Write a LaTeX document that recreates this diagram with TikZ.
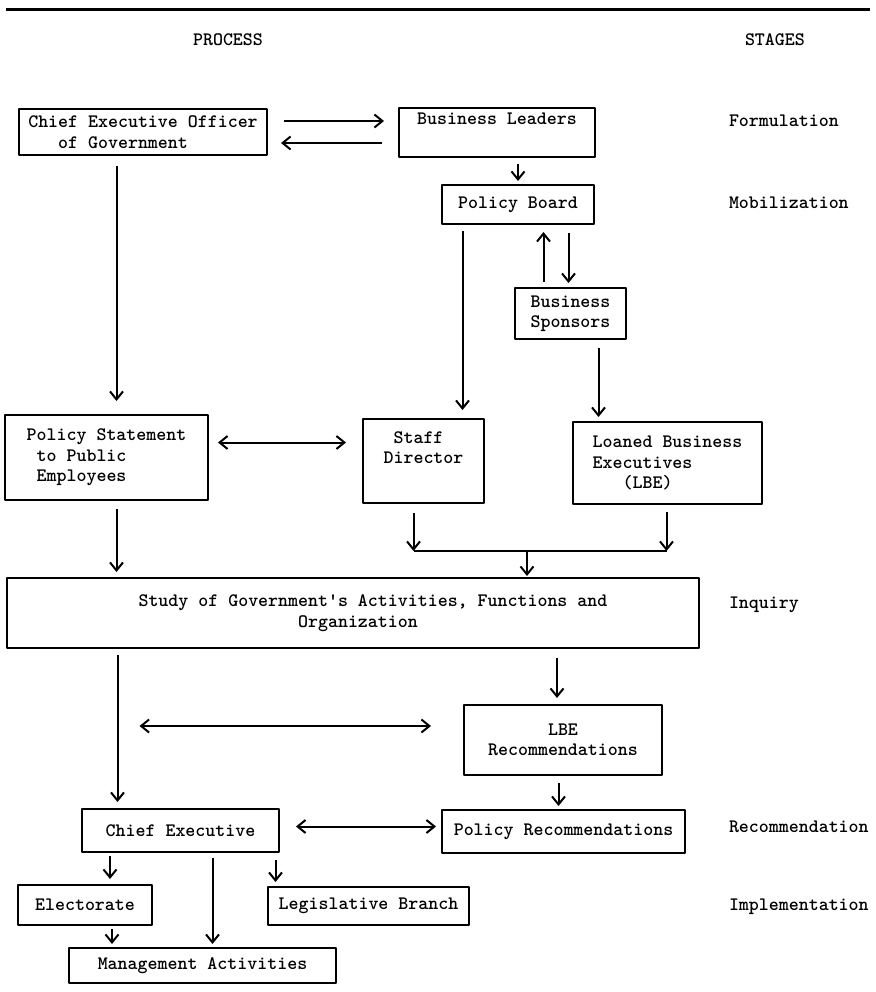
\documentclass[tikz,border=0pt]{standalone}
\usetikzlibrary{arrows.meta}
\begin{document}
\begin{tikzpicture}[x=1pt,y=-1pt,line width=2pt,line join=round,
  >={Straight Barb[length=8pt,width=13pt]},
  font=\fontsize{19}{20.5}\selectfont\ttfamily\bfseries,
  box/.style={draw,inner sep=0pt,align=center},
  stage/.style={anchor=west,inner sep=0pt}]
\useasboundingbox (0,0) rectangle (875,992);

%Kopf
\draw[line width=3pt] (6,10) -- (870,10);
\node (process) at (228,40) {PROCESS};
\node[stage] (stages) at (744,40) {STAGES};

%Kästen
\node[box,minimum width=248pt,minimum height=46pt,align=left] (ceo) at (143,132) {Chief Executive Officer\\\hphantom{xxx}of Government};
\node[box,minimum width=196pt,minimum height=49pt] (bl) at (497,132.5) {Business Leaders\\\strut};
\node[box,minimum width=152pt,minimum height=39pt] (pb) at (518,204.5) {Policy Board};
\node[box,minimum width=111pt,minimum height=51pt] (bs) at (570.5,313.5) {Business\\Sponsors};
\node[box,minimum width=203pt,minimum height=85pt,align=left] (ps) at (106.5,457.5) {Policy Statement\\\hphantom{x}to Public\\\hphantom{x}Employees};
\node[box,minimum width=121pt,minimum height=84pt,align=left] (sd) at (423.5,461) {\hphantom{x}Staff\\Director\\\strut};
\node[box,minimum width=189pt,minimum height=82pt,align=left] (lbe) at (667.5,463) {Loaned Business\\Executives\\\hphantom{xxx}(LBE)};
\node[box,minimum width=692pt,minimum height=70pt,align=left] (study) at (353,613) {\hphantom{xxxx}Study of Government's Activities, Functions and\\\hphantom{xxxxxxxxxxxxxxxxxxxx}Organization};
\node[box,minimum width=198pt,minimum height=70pt] (lber) at (563,740) {LBE\\Recommendations};
\node[box,minimum width=243pt,minimum height=43pt] (pr) at (563.5,831.5) {Policy Recommendations};
\node[box,minimum width=197pt,minimum height=43pt] (ce) at (180.5,830.5) {Chief Executive};
\node[box,minimum width=134pt,minimum height=40pt] (el) at (85,905) {Electorate};
\node[box,minimum width=201pt,minimum height=38pt] (lb) at (368.5,906) {Legislative Branch};
\node[box,minimum width=267pt,minimum height=35pt] (ma) at (202.5,965.5) {Management Activities};

%Stufen
\node[stage] (formulation) at (728,121) {Formulation};
\node[stage] (mobilization) at (728,203) {Mobilization};
\node[stage] (inquiry) at (728,605) {Inquiry};
\node[stage] (recommendation) at (728,827) {Recommendation};
\node[stage] (implementation) at (728,907) {Implementation};

%Pfeile oben
\draw[->,shorten <=16pt,shorten >=14pt] ([yshift=11pt]ceo.east) -- ([yshift=11pt]ceo.east -| bl.west);
\draw[<-,shorten <=13pt,shorten >=16pt] ([yshift=-11pt]ceo.east) -- ([yshift=-11pt]ceo.east -| bl.west);
\draw[->,shorten <=6pt,shorten >=3pt] (bl.south -| pb.north) -- (pb.north);
\draw[->,shorten <=5pt,shorten >=7pt] ([xshift=-27pt]bs.north) -- ([xshift=-27pt]bs.north |- pb.south);
\draw[->,shorten <=8pt,shorten >=4pt] ([xshift=-2pt]bs.north |- pb.south) -- ([xshift=-2pt]bs.north);
\draw[->,shorten <=6pt,shorten >=8pt] ([xshift=39pt]sd.north |- pb.south) -- ([xshift=39pt]sd.north);
\draw[->,shorten <=8pt,shorten >=4pt] ([xshift=28pt]bs.south) -- ([xshift=28pt]bs.south |- lbe.north);
\draw[->,shorten <=10pt,shorten >=13pt] ([xshift=10pt]ps.north |- ceo.south) -- ([xshift=10pt]ps.north);

%Pfeile Mitte
\draw[<->,shorten <=9pt,shorten >=16pt] ([yshift=15pt]ps.east) -- ([yshift=15pt]ps.east -| sd.west);
\draw[->,shorten <=8pt,shorten >=5pt] ([xshift=10pt]ps.south) -- ([xshift=10pt]ps.south |- study.north);
\coordinate (jn) at (527,551);
\draw[->,shorten <=9pt] ([xshift=-10pt]sd.south) -- ([xshift=-10pt]sd.south |- jn);
\draw[->,shorten <=7pt] ([xshift=-1pt]lbe.south) -- ([xshift=-1pt]lbe.south |- jn);
\draw ([xshift=-10pt]sd.south |- jn) -- ([xshift=-1pt]lbe.south |- jn);
\draw[->,shorten >=1pt] (jn) -- (jn |- study.north);

%Pfeile unten
\draw[->,shorten <=6pt,shorten >=6pt] ([xshift=-63pt]ce.north |- study.south) -- ([xshift=-63pt]ce.north);
\draw[->,shorten <=9pt,shorten >=6pt] ([xshift=-6pt]lber.north |- study.south) -- ([xshift=-6pt]lber.north);
\draw[<->,shorten <=22pt,shorten >=32pt] ([xshift=-63pt,yshift=14pt]ce.north |- lber.west) -- ([yshift=14pt]lber.west);
\draw[->,shorten <=7pt,shorten >=3pt] ([xshift=-5pt]pr.north |- lber.south) -- ([xshift=-5pt]pr.north);
\draw[<->,shorten <=16pt,shorten >=5pt] ([yshift=4pt]ce.east) -- ([yshift=4pt]ce.east -| pr.west);
\draw[->,shorten <=3pt,shorten >=5pt] ([xshift=25pt]el.north |- ce.south) -- ([xshift=25pt]el.north);
\draw[->,shorten <=7pt,shorten >=4pt] ([xshift=-93pt]lb.north |- ce.south) -- ([xshift=-93pt]lb.north);
\draw[->,shorten <=5pt,shorten >=3pt] ([xshift=10pt]ma.north |- ce.south) -- ([xshift=10pt]ma.north);
\draw[->,shorten <=3pt,shorten >=3pt] ([xshift=27pt]el.south) -- ([xshift=27pt]el.south |- ma.north);

\end{tikzpicture}
\end{document}
